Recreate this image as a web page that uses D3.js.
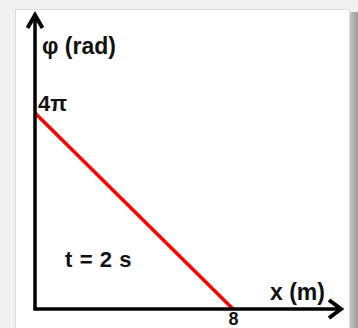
<!DOCTYPE html>
<html>
<head>
<meta charset="utf-8">
<script src="https://cdn.jsdelivr.net/npm/d3@7"></script>
<style>
  html, body { margin: 0; padding: 0; background: #f1f1f1; }
  svg { display: block; }
</style>
</head>
<body>
<div id="chart"></div>
<script>
// values
var xTicks = [8];
var xTickLabels = ["8"];
var yTicks = [4 * Math.PI];
var yTickLabels = ["4\u03c0"];
var lineX = [0, 8];
var lineY = [4 * Math.PI, 0];
var xTitle = "x (m)";
var yTitle = "\u03c6 (rad)";
var note = "t = 2 s";

var W = 358, H = 328;
var font = "'Liberation Sans', Arial, sans-serif";

var svg = d3.select("#chart").append("svg")
    .attr("width", W)
    .attr("height", H);

// page background + card with a shadow on the right
var defs = svg.append("defs");
var grad = defs.append("linearGradient").attr("id", "shade")
    .attr("x1", 0).attr("x2", 1).attr("y1", 0).attr("y2", 0);
grad.append("stop").attr("offset", "0%").attr("stop-color", "#c4c4c4");
grad.append("stop").attr("offset", "100%").attr("stop-color", "#9a9a9a");

svg.append("rect").attr("width", W).attr("height", H).attr("fill", "#f1f1f1");
svg.append("rect").attr("x", 350).attr("y", 12).attr("width", 8).attr("height", H)
    .attr("fill", "url(#shade)");
svg.append("rect")
    .attr("x", 15.5).attr("y", 9.5)
    .attr("width", 334).attr("height", H)
    .attr("fill", "#fff")
    .attr("stroke", "#dcdcdc");

// scales
var x = d3.scaleLinear().domain([0, 8]).range([35, 233]);
var y = d3.scaleLinear().domain([0, 4 * Math.PI]).range([309, 113]);

var axisEndX = 342, axisEndY = 14;

// red line
var line = d3.line()
    .x(function(d) { return x(d[0]); })
    .y(function(d) { return y(d[1]); });

svg.append("path")
    .datum(d3.zip(lineX, lineY))
    .attr("fill", "none")
    .attr("stroke", "#ff0000")
    .attr("stroke-width", 3.5)
    .attr("d", line);

// axes lines
var axes = svg.append("g").attr("stroke", "#000").attr("fill", "none")
    .attr("stroke-width", 3.5);
axes.append("path")
    .attr("d", "M" + x(0) + "," + axisEndY + "V" + y(0) + "H" + axisEndX);
// arrow heads
axes.append("path")
    .attr("stroke-width", 4)
    .attr("stroke-linejoin", "miter")
    .attr("d", "M" + (x(0) - 7.5) + "," + (axisEndY + 14) + "L" + x(0) + "," + (axisEndY + 1) +
        "L" + (x(0) + 7.5) + "," + (axisEndY + 14));
axes.append("path")
    .attr("stroke-width", 4)
    .attr("stroke-linejoin", "miter")
    .attr("d", "M" + (axisEndX - 13) + "," + (y(0) - 9) + "L" + (axisEndX - 1) + "," + y(0) +
        "L" + (axisEndX - 13) + "," + (y(0) + 9));

// tick labels via d3 axes (no tick marks, no domain)
var xAxis = svg.append("g")
    .attr("transform", "translate(0," + y(0) + ")")
    .call(d3.axisBottom(x).tickValues(xTicks).tickSize(0).tickPadding(3)
        .tickFormat(function(d, i) { return xTickLabels[i]; }));
xAxis.select(".domain").remove();
xAxis.selectAll("text")
    .attr("font-family", font)
    .attr("font-size", 18)
    .attr("font-weight", "bold")
    .attr("fill", "#111");

var yAxis = svg.append("g")
    .attr("transform", "translate(" + x(0) + ",0)")
    .call(d3.axisRight(y).tickValues(yTicks).tickSize(0).tickPadding(3)
        .tickFormat(function(d, i) { return yTickLabels[i]; }));
yAxis.select(".domain").remove();
yAxis.selectAll("text")
    .attr("font-family", font)
    .attr("font-size", 22)
    .attr("font-weight", "bold")
    .attr("fill", "#111")
    .attr("dy", "-0.1em");

// titles
var txt = svg.append("g")
    .attr("font-family", font)
    .attr("font-weight", "bold")
    .attr("font-size", 23)
    .attr("fill", "#111");

txt.append("text").attr("x", 42).attr("y", 54).text(yTitle);
txt.append("text").attr("x", 270).attr("y", 300).text(xTitle);
txt.append("text").attr("x", 65).attr("y", 267).attr("font-size", 22)
    .attr("letter-spacing", 0.6).text(note);
</script>
</body>
</html>
